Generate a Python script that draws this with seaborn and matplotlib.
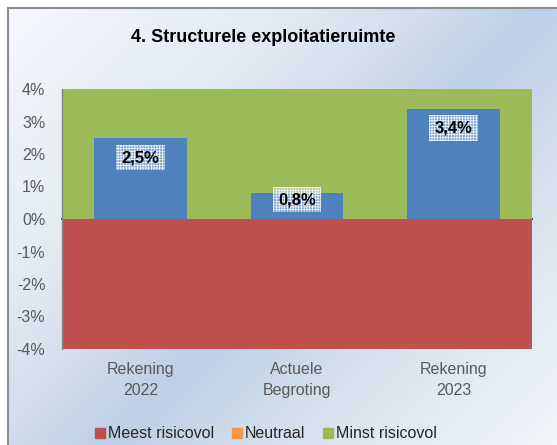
import numpy as np
import pandas as pd
import matplotlib
matplotlib.use("Agg")
import matplotlib.pyplot as plt
from matplotlib.lines import Line2D
from matplotlib.colors import LinearSegmentedColormap
import seaborn as sns

# ---- data ----
categories = ["Rekening\n2022", "Actuele\nBegroting", "Rekening\n2023"]
values = [2.5, 0.8, 3.4]
value_labels = ["2,5%", "0,8%", "3,4%"]
band_green = [4, 4, 4]      # Minst risicovol
band_red = [-4, -4, -4]     # Meest risicovol
yticks = [-4, -3, -2, -1, 0, 1, 2, 3, 4]
ytick_labels = ["-4%", "-3%", "-2%", "-1%", "0%", "1%", "2%", "3%", "4%"]
legend_labels = ["Meest risicovol", "Neutraal", "Minst risicovol"]
title = "4. Structurele exploitatieruimte"

RED = "#C0504D"
ORANGE = "#F79646"
GREEN = "#9BBB59"
BLUE = "#4F81BD"

sns.set_theme(style="white")
plt.rcParams["font.family"] = ["Liberation Sans", "DejaVu Sans"]
plt.rcParams["hatch.linewidth"] = 0.5

W, H = 557, 445
fig = plt.figure(figsize=(W / 100, H / 100), dpi=100)
fig.patch.set_facecolor("white")

# background gradient (diagonal, blue band through the middle)
bg = fig.add_axes([8 / W, 0, 1 - 8 / W, 1 - 8 / H], zorder=-10)
bg.axis("off")
px, py = np.meshgrid(np.linspace(8, W, 300), np.linspace(8, H, 240))
s = (px + py) / (W + H)
cmap = LinearSegmentedColormap.from_list(
    "bg", [(0.0, "#f6f8fc"), (0.3, "#e3eaf4"), (0.44, "#d2ddec"),
           (0.55, "#bdd0e7"), (0.75, "#d9e3ef"), (1.0, "#f3f6fa")])
bg.imshow(s, cmap=cmap, aspect="auto", extent=[0, 1, 1, 0], vmin=0, vmax=1)
bg.set_xlim(0, 1)
bg.set_ylim(1, 0)
# frame lines (left and top)
fig.add_artist(Line2D([7.5 / W, 7.5 / W], [0, 1 - 7.5 / H], color="#8c8c8c", lw=1.5))
fig.add_artist(Line2D([7.5 / W, 1], [1 - 7.5 / H, 1 - 7.5 / H], color="#8c8c8c", lw=1.5))

# plot axes
ax = fig.add_axes([62 / W, 1 - 349 / H, 470 / W, 260 / H])
ax.patch.set_alpha(0)

df = pd.DataFrame({"cat": categories, "val": values,
                   "green": band_green, "red": band_red})
sns.barplot(data=df, x="cat", y="green", color=GREEN, saturation=1,
            width=1.0, linewidth=0, ax=ax)
sns.barplot(data=df, x="cat", y="red", color=RED, saturation=1,
            width=1.0, linewidth=0, ax=ax)
sns.barplot(data=df, x="cat", y="val", color=BLUE, saturation=1,
            width=0.59, linewidth=0, ax=ax)

ax.set_xlim(-0.5, 2.5)
ax.set_ylim(-4, 4)
ax.set_yticks(yticks, ytick_labels)
ax.set_xlabel("")
ax.set_ylabel("")
for sp in ["top", "right", "bottom"]:
    ax.spines[sp].set_visible(False)
ax.spines["left"].set_color("#868686")
ax.spines["left"].set_linewidth(1.0)
ax.tick_params(axis="y", length=0, pad=12, labelsize=11.5, labelcolor="#595959")
ax.tick_params(axis="x", length=0, pad=9.5, labelsize=11.5, labelcolor="#595959")
for t in ax.get_xticklabels():
    t.set_linespacing(1.45)

# small category-divider ticks on the zero line
sec = ax.secondary_xaxis(0.5)
sec.set_xticks([0.5, 1.5], ["", ""])
sec.tick_params(direction="in", length=4, color="#868686", width=1)
sec.spines["bottom"].set_visible(False)

# value labels
for i, (v, lab) in enumerate(zip(values, value_labels)):
    ypos = max(v - 0.61, 0.6)
    ax.text(i, ypos, lab, ha="center", va="center", fontsize=12,
            fontweight="bold", color="black", zorder=5,
            bbox=dict(boxstyle="square,pad=0.32", facecolor=(0.88, 0.92, 0.98, 0.35),
                      edgecolor=(1, 1, 1, 0.95), linewidth=0, hatch="++++++"))

fig.text(263 / W, 1 - 38 / H, title, ha="center", va="center",
         fontsize=13, fontweight="bold", color="black")

handles = [Line2D([], [], marker="s", linestyle="none", markersize=6.5,
                  markerfacecolor=c, markeredgecolor=c)
           for c in [RED, ORANGE, GREEN]]
fig.legend(handles, legend_labels, loc="center",
           bbox_to_anchor=(266 / W, 1 - 434 / H), ncol=3, frameon=False,
           handlelength=0.6, handletextpad=0.2, columnspacing=1.1,
           fontsize=11.5, borderpad=0, borderaxespad=0)

fig.savefig("out.png", dpi=100)
